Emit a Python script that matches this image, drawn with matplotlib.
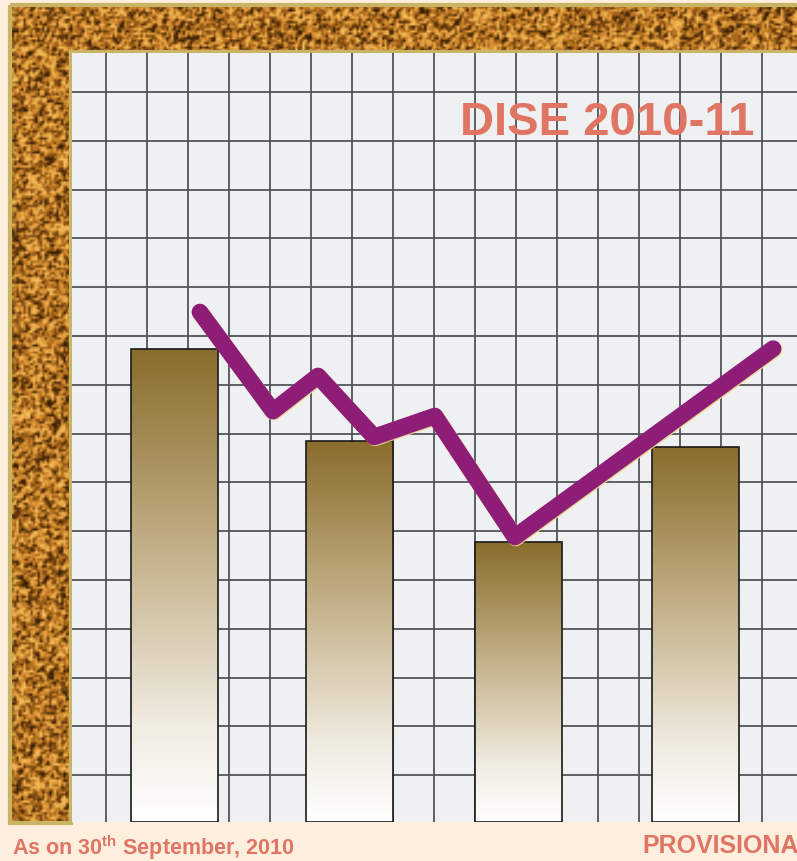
import numpy as np
import matplotlib
matplotlib.use("Agg")
import matplotlib.pyplot as plt
from matplotlib.colors import LinearSegmentedColormap
from matplotlib.patches import Polygon
import matplotlib.patheffects as pe

# values in grid-cell units (one cell = one unit)
bar_x = [2.5, 6.77, 10.89, 15.2]
bar_vals = [9.69, 7.81, 5.74, 7.68]
line_x = [3.12, 4.9, 6.0, 7.37, 8.85, 10.8, 17.1]
line_vals = [10.45, 8.42, 9.14, 7.89, 8.32, 5.84, 9.7]
grid_x = [0.83 + k for k in range(17)]
grid_y = [0.96 + k for k in range(15)]

title = "DISE 2010-11"
footer = r"As on 30$^{\mathbf{th}}$ September, 2010"
stamp = "PROVISIONAL"

BG = "#fdeedd"
SALMON = "#df7562"
PURPLE = "#8e1d78"

plt.rcParams["mathtext.fontset"] = "custom"
plt.rcParams["mathtext.rm"] = "Liberation Sans:bold"
plt.rcParams["mathtext.bf"] = "Liberation Sans:bold"

fig = plt.figure(figsize=(7.97, 8.61), dpi=100, facecolor=BG)

# background layer in pixel units for the cork frame
bg = fig.add_axes([0, 0, 1, 1])
bg.set_xlim(0, 797)
bg.set_ylim(861, 0)
bg.axis("off")

rng = np.random.default_rng(7)
noise = rng.random((370, 340))
noise = (2 * noise + np.roll(noise, 1, 0) + np.roll(noise, 1, 1)) / 4
cork = LinearSegmentedColormap.from_list("cork", ["#3a2006", "#7c4a12", "#b8721f", "#e09a3c", "#f2bc58"])
frame = Polygon([(10, 5), (800, 5), (800, 52), (71, 52), (71, 823), (10, 823)],
                closed=True, facecolor="none", edgecolor="#c9b466", lw=3, zorder=3)
bg.add_patch(frame)
im = bg.imshow(noise, cmap=cork, extent=(0, 797, 861, 0), interpolation="bilinear",
               vmin=0.18, vmax=0.82, zorder=2)
im.set_clip_path(frame)

# chart area
ax = fig.add_axes([72 / 797, (861 - 822) / 861, (797 - 72) / 797, (822 - 53) / 861])
ax.set_facecolor("#eff0f2")
ax.set_xticks(grid_x)
ax.set_yticks(grid_y)
ax.tick_params(length=0, labelbottom=False, labelleft=False)
ax.grid(True, color="#50545a", lw=1.3)
ax.set_axisbelow(True)
for s in ax.spines.values():
    s.set_visible(False)

grad = LinearSegmentedColormap.from_list(
    "bar", [(0, "#ffffff"), (0.2, "#f1ece2"), (0.55, "#c6b58e"), (1, "#8a6c2c")])
bars = ax.bar(bar_x, bar_vals, width=2.12, facecolor="none", edgecolor="#1a1a1a", lw=1.2, zorder=3)
for b in bars:
    x0, y0 = b.get_x(), b.get_y()
    g = ax.imshow(np.linspace(0, 1, 256).reshape(-1, 1), cmap=grad, origin="lower", aspect="auto",
                  extent=(x0, x0 + b.get_width(), y0, y0 + b.get_height()), zorder=2)
    g.set_clip_path(b)

ax.plot(line_x, line_vals, color=PURPLE, lw=12, solid_capstyle="round", solid_joinstyle="round",
        zorder=4, path_effects=[pe.SimpleLineShadow(offset=(0.7, -0.7), shadow_color="#ead388", alpha=0.9),
                                pe.Normal()])

ax.set_xlim(0, 725 / 41)
ax.set_ylim(0, 769 / 48.8)

# text layer on top
txt = fig.add_axes([0, 0, 1, 1])
txt.set_xlim(0, 797)
txt.set_ylim(861, 0)
txt.axis("off")

txt.text(460, 135, title, color=SALMON, fontsize=34, fontweight="bold",
         family=["Liberation Sans", "DejaVu Sans"], va="baseline", ha="left")
txt.text(12, 855, footer, color=SALMON, fontsize=15.5, fontweight="bold",
         family=["Liberation Sans", "DejaVu Sans"], va="baseline", ha="left")
txt.text(642, 853, stamp, color=SALMON, fontsize=18, fontweight="bold",
         family=["Liberation Sans", "DejaVu Sans"], va="baseline", ha="left")

fig.savefig("out.png", dpi=100, facecolor=BG)
